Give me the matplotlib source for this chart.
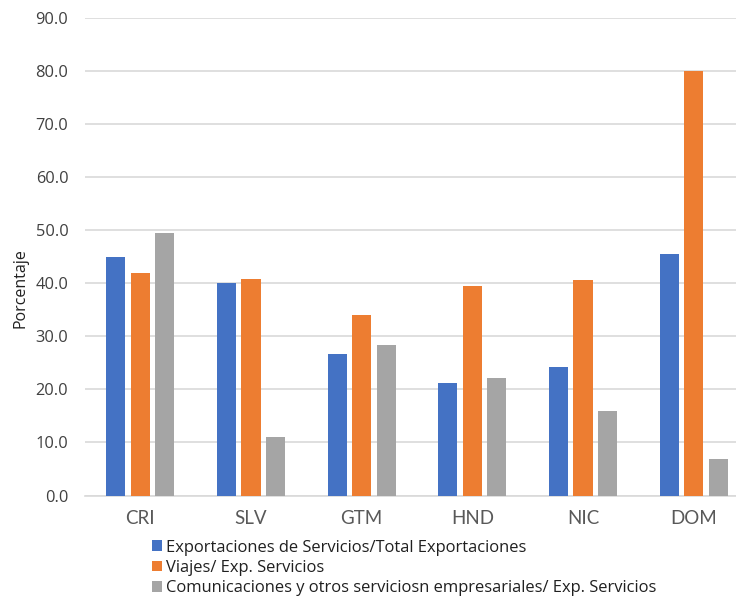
import matplotlib
matplotlib.use("Agg")
import matplotlib.pyplot as plt
import numpy as np

categories = ["CRI", "SLV", "GTM", "HND", "NIC", "DOM"]
series_names = [
    "Exportaciones de Servicios/Total Exportaciones",
    "Viajes/ Exp. Servicios",
    "Comunicaciones y otros serviciosn empresariales/ Exp. Servicios",
]
exp_servicios = [45.0, 40.1, 26.6, 21.2, 24.3, 45.5]
viajes = [41.9, 40.8, 34.0, 39.5, 40.6, 80.0]
comunicaciones = [49.4, 11.0, 28.4, 22.2, 15.9, 6.9]
colors = ["#4472C4", "#ED7D31", "#A5A5A5"]
yticks = [0, 10, 20, 30, 40, 50, 60, 70, 80, 90]

W, H = 736, 596
fig = plt.figure(figsize=(W / 100, H / 100), dpi=100)
ax = fig.add_axes([85 / W, 1 - 495.5 / H, 664 / W, (495.5 - 18) / H])

x = np.arange(len(categories))
width = 0.172
offs = [-0.221, 0.0, 0.221]
for vals, off, col, name in zip([exp_servicios, viajes, comunicaciones], offs, colors, series_names):
    ax.bar(x + off, vals, width, color=col, label=name, zorder=3)

ax.set_xlim(-0.5, len(categories) - 0.5)
ax.set_ylim(0, 90)
ax.set_yticks(yticks)
ax.set_yticklabels([f"{v:.1f}" for v in yticks], family="Open Sans", fontsize=11.8, color="#404040")
ax.set_xticks(x)
ax.set_xticklabels(categories, family="Lato", fontsize=13.5, color="#595959")
ax.tick_params(axis="both", length=0)
ax.tick_params(axis="y", pad=12)
ax.tick_params(axis="x", pad=10.5)
ax.grid(axis="y", color="#D9D9D9", lw=1.2, zorder=0)
for s in ["top", "right", "left"]:
    ax.spines[s].set_visible(False)
ax.spines["bottom"].set_color("#D9D9D9")
ax.spines["bottom"].set_linewidth(1.2)

fig.text(20 / W, 1 - 288 / H, "Porcentaje", rotation=90, va="center", ha="center",
         family="Open Sans", fontsize=11.5, color="#202020")

handles, labels = ax.get_legend_handles_labels()
leg = fig.legend(handles, labels, loc="upper left", bbox_to_anchor=(152 / W, 1 - 539.5 / H),
                 frameon=False, prop={"family": "Open Sans", "size": 11.9},
                 handlelength=0.6, handleheight=0.6, handletextpad=0.25,
                 labelspacing=0.26, borderpad=0, borderaxespad=0)
for t in leg.get_texts():
    t.set_color("#202020")

fig.savefig("out.png", dpi=100)
